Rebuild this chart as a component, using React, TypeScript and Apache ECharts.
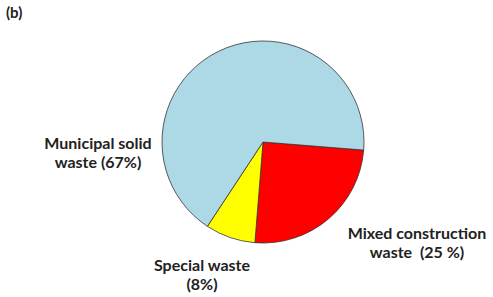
import React, { useEffect, useRef } from "react";
import * as echarts from "echarts";

const categories = ["Mixed construction\nwaste  (25 %)", "Special waste\n(8%)", "Municipal solid\nwaste (67%)"];
const values = [25, 8, 67];
const colors = ["#FF0000", "#FFFF00", "#ADD8E6"];
const panelLabel = "(b)";

const labelPos = [
  { x: 417, y: 242 },
  { x: 202, y: 274 },
  { x: 98, y: 152 },
];

export default function App() {
  const ref = useRef<HTMLDivElement>(null);
  useEffect(() => {
    document.body.style.margin = "0";
    const chart = echarts.init(ref.current!, null, { renderer: "svg" });
    chart.setOption({
      animation: false,
      backgroundColor: "#ffffff",
      graphic: [
        {
          type: "text",
          left: 6,
          top: 4,
          style: {
            text: panelLabel,
            font: "bold 15px Lato",
            fill: "#222",
          },
        },
      ],
      series: [
        {
          type: "pie",
          center: [263, 142],
          radius: 101,
          startAngle: -4.6,
          clockwise: true,
          avoidLabelOverlap: false,
          itemStyle: { borderColor: "#333", borderWidth: 0.8 },
          labelLine: { show: false },
          label: {
            show: true,
            formatter: "{b}",
            fontFamily: "Lato",
            fontWeight: "bold",
            fontSize: 16,
            lineHeight: 19,
            color: "#222",
            align: "center",
          },
          labelLayout: (params: any) => {
            const p = labelPos[params.dataIndex];
            return { x: p.x, y: p.y, align: "center", verticalAlign: "middle" };
          },
          data: categories.map((c, i) => ({
            name: c,
            value: values[i],
            itemStyle: { color: colors[i] },
          })),
        },
      ],
    });
    return () => chart.dispose();
  }, []);
  return <div ref={ref} style={{ width: 493, height: 297 }} />;
}
